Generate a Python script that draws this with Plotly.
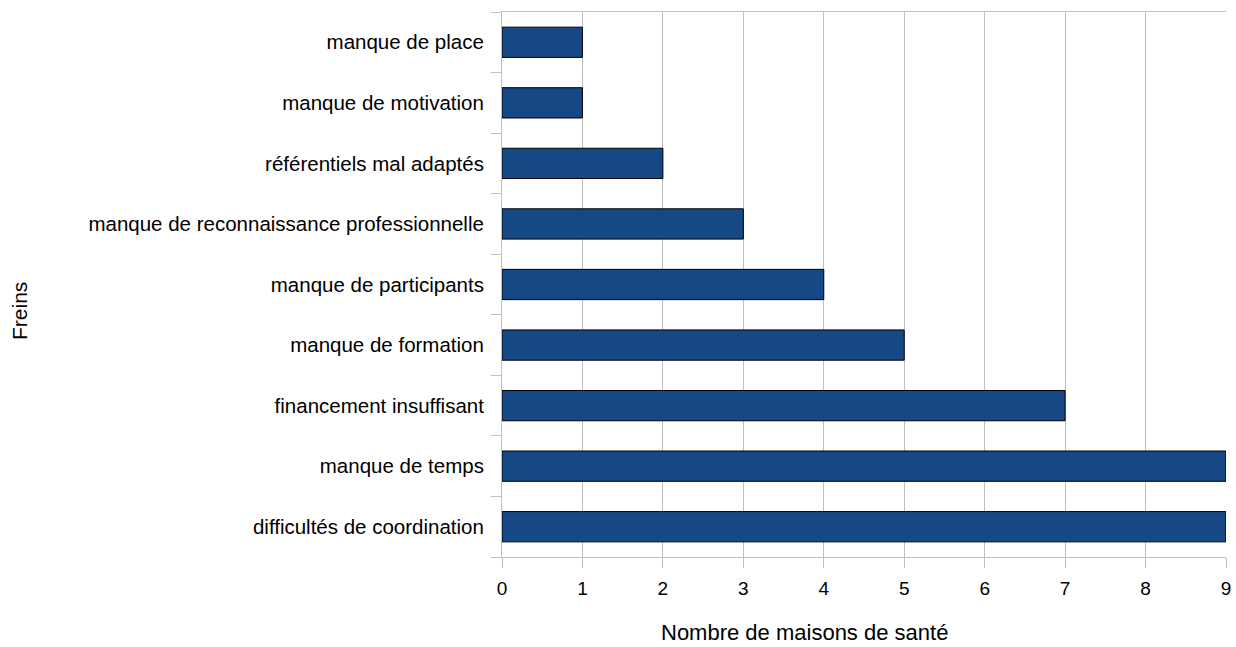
import plotly.graph_objects as go

categories = [
    "difficultés de coordination",
    "manque de temps",
    "financement insuffisant",
    "manque de formation",
    "manque de participants",
    "manque de reconnaissance professionnelle",
    "référentiels mal adaptés",
    "manque de motivation",
    "manque de place",
]
values = [9, 9, 7, 5, 4, 3, 2, 1, 1]
x_ticks = [0, 1, 2, 3, 4, 5, 6, 7, 8, 9]
x_title = "Nombre de maisons de santé"
y_title = "Freins"

fig = go.Figure(
    go.Bar(
        x=values,
        y=categories,
        orientation="h",
        width=0.5,
        marker=dict(color="#164886", line=dict(color="#000000", width=1)),
    )
)

fig.update_layout(
    width=1236,
    height=647,
    autosize=False,
    margin=dict(l=502, r=10, t=12, b=90),
    plot_bgcolor="white",
    paper_bgcolor="white",
    font=dict(family="Liberation Sans, Arial, sans-serif", size=20, color="#000000"),
    showlegend=False,
    bargap=0.5,
    annotations=[
        dict(
            text=x_title, xref="paper", yref="paper", x=0.4185, y=0,
            xanchor="center", yanchor="bottom", yshift=-90, showarrow=False,
            font=dict(size=22),
        ),
        dict(
            text=y_title, xref="paper", yref="paper", x=0, y=0.4514,
            xanchor="center", yanchor="middle", xshift=-482, textangle=-90,
            showarrow=False, font=dict(size=21),
        ),
    ],
)

fig.update_xaxes(
    range=[0, 9],
    tickvals=x_ticks,
    tickfont=dict(size=19),
    ticklabelstandoff=4,
    ticklabeloverflow="allow",
    automargin=False,
    showgrid=True,
    gridcolor="#c0c0c0",
    gridwidth=1,
    showline=True,
    linecolor="#c0c0c0",
    mirror=True,
    ticks="outside",
    ticklen=10,
    tickcolor="#c0c0c0",
    zeroline=False,
)

fig.update_yaxes(
    categoryorder="array",
    categoryarray=categories,
    tickfont=dict(size=20.5),
    automargin=False,
    showgrid=False,
    showline=True,
    linecolor="#c0c0c0",
    ticks="outside",
    tickson="boundaries",
    ticklen=10,
    tickcolor="#c0c0c0",
    ticklabelstandoff=13,
)

fig.write_html(
    "out.html",
    config={"responsive": False, "displayModeBar": False},
    post_script="document.body.style.margin='0';document.body.style.overflow='hidden';",
)
